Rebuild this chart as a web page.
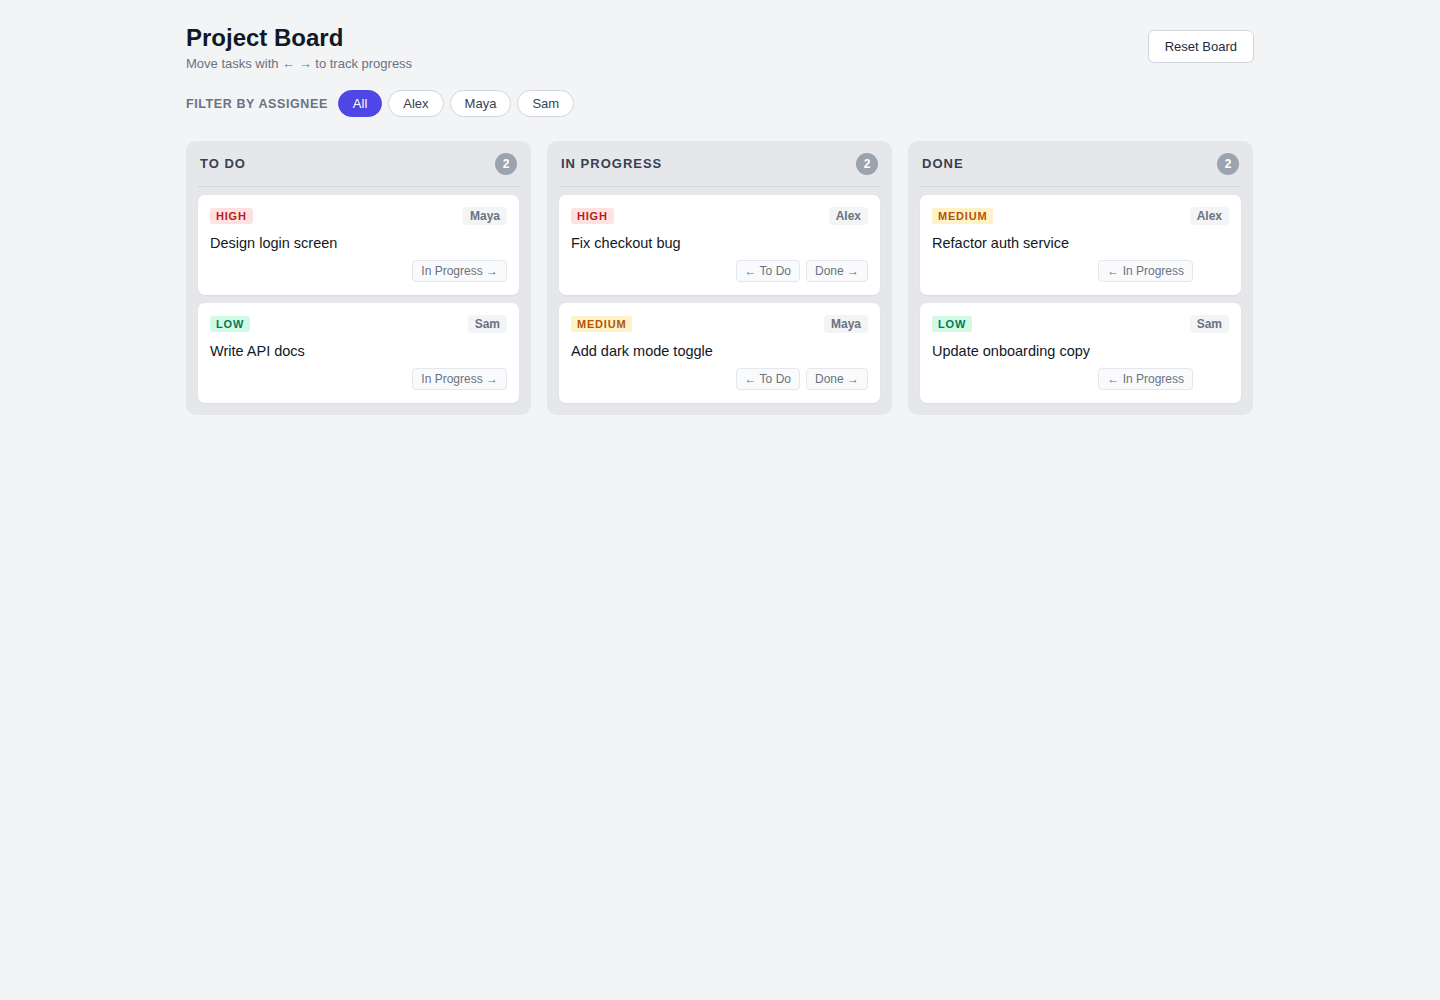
<!DOCTYPE html>
<html><head><meta charset="utf-8">
<script src="https://cdn.jsdelivr.net/npm/chart.js@4"></script>
<style>
*{box-sizing:border-box}
body{margin:0;background:#f3f4f6;font-family:"Liberation Sans",Arial,sans-serif;color:#111827}
.wrap{width:1068px;margin:0 auto;padding-top:22px}
.top{display:flex;justify-content:space-between;align-items:flex-start}
h1{margin:0;font-size:24px;font-weight:700;line-height:32px}
.sub{font-size:13px;color:#6b7280;margin-top:2px}
.reset{margin-top:8px;height:33px;padding:0 16px;border:1px solid #d1d5db;background:#fff;border-radius:6px;font-size:13px;color:#1f2937;font-family:inherit}
.filter{display:flex;align-items:center;margin-top:19px;gap:6px}
.filter .lbl{font-size:12.5px;font-weight:700;letter-spacing:.6px;color:#6b7280;margin-right:4px}
.pill{height:27px;padding:0 14px;border:1px solid #d1d5db;border-radius:14px;background:#fff;font-size:13px;color:#374151;font-family:inherit}
.pill.on{background:#4f46e5;border-color:#4f46e5;color:#fff}
.board{display:flex;gap:16px;margin-top:24px}
.col{width:345px;background:#e5e7eb;border-radius:10px;padding:0 12px 12px}
.ch{display:flex;justify-content:space-between;align-items:center;height:46px;border-bottom:1px solid #d1d5db;padding:0 2px;margin-bottom:8px}
.ch .t{font-size:13px;font-weight:700;letter-spacing:1px;color:#374151}
.cnt{width:22px;height:22px;border-radius:11px;background:#9ca3af;color:#fff;font-size:12px;font-weight:700;display:flex;align-items:center;justify-content:center}
.card{background:#fff;border-radius:7px;height:100px;padding:12px;margin-bottom:8px;box-shadow:0 1px 2px rgba(0,0,0,.05)}
.card:last-child{margin-bottom:0}
.r1{display:flex;justify-content:space-between;align-items:center}
.pr{font-size:11px;font-weight:700;letter-spacing:.8px;padding:2px 6px;border-radius:3px}
.HIGH{background:#fee2e2;color:#b91c1c}.MEDIUM{background:#fef3c7;color:#b45309}.LOW{background:#d1fae5;color:#047857}
.who{font-size:12px;font-weight:700;color:#6b7280;background:#f3f4f6;padding:2px 7px;border-radius:4px}
.title{font-size:14.5px;margin-top:10px;color:#111827}
.acts{display:flex;justify-content:flex-end;gap:6px;margin-top:9px}
.b{height:22px;padding:0 8px;border:1px solid #e5e7eb;background:#f9fafb;border-radius:4px;font-size:12px;color:#6b7280;font-family:inherit}
.sp{visibility:hidden;width:30px}
</style></head><body>
<div class="wrap">
<div class="top"><div><h1>Project Board</h1><div class="sub">Move tasks with ← → to track progress</div></div><button class="reset">Reset Board</button></div>
<div class="filter" id="filter"><span class="lbl">FILTER BY ASSIGNEE</span></div>
<div class="board" id="board"></div>
</div>
<script>
const columns=["TO DO","IN PROGRESS","DONE"];
const colStatus=["To Do","In Progress","Done"];
const assignees=["All","Alex","Maya","Sam"];
const taskTitles=["Design login screen","Write API docs","Fix checkout bug","Add dark mode toggle","Refactor auth service","Update onboarding copy"];
const taskPriority=["HIGH","LOW","HIGH","MEDIUM","MEDIUM","LOW"];
const taskAssignee=["Maya","Sam","Alex","Maya","Alex","Sam"];
const taskColumn=[0,0,1,1,2,2];
const f=document.getElementById('filter');
assignees.forEach((a,i)=>{const b=document.createElement('button');b.className='pill'+(i==0?' on':'');b.textContent=a;f.appendChild(b);});
const bd=document.getElementById('board');
columns.forEach((c,ci)=>{
 const idx=taskColumn.map((v,i)=>v===ci?i:-1).filter(i=>i>=0);
 let h=`<div class="col"><div class="ch"><span class="t">${c}</span><span class="cnt">${idx.length}</span></div>`;
 idx.forEach(i=>{
  let acts='';
  if(ci>0)acts+=`<button class="b">← ${colStatus[ci-1]}</button>`;
  if(ci<columns.length-1)acts+=`<button class="b">${colStatus[ci+1]} →</button>`;else acts+=`<span class="sp"></span>`;
  h+=`<div class="card"><div class="r1"><span class="pr ${taskPriority[i]}">${taskPriority[i]}</span><span class="who">${taskAssignee[i]}</span></div><div class="title">${taskTitles[i]}</div><div class="acts">${acts}</div></div>`;
 });
 bd.insertAdjacentHTML('beforeend',h+'</div>');
});
</script>
</body></html>
